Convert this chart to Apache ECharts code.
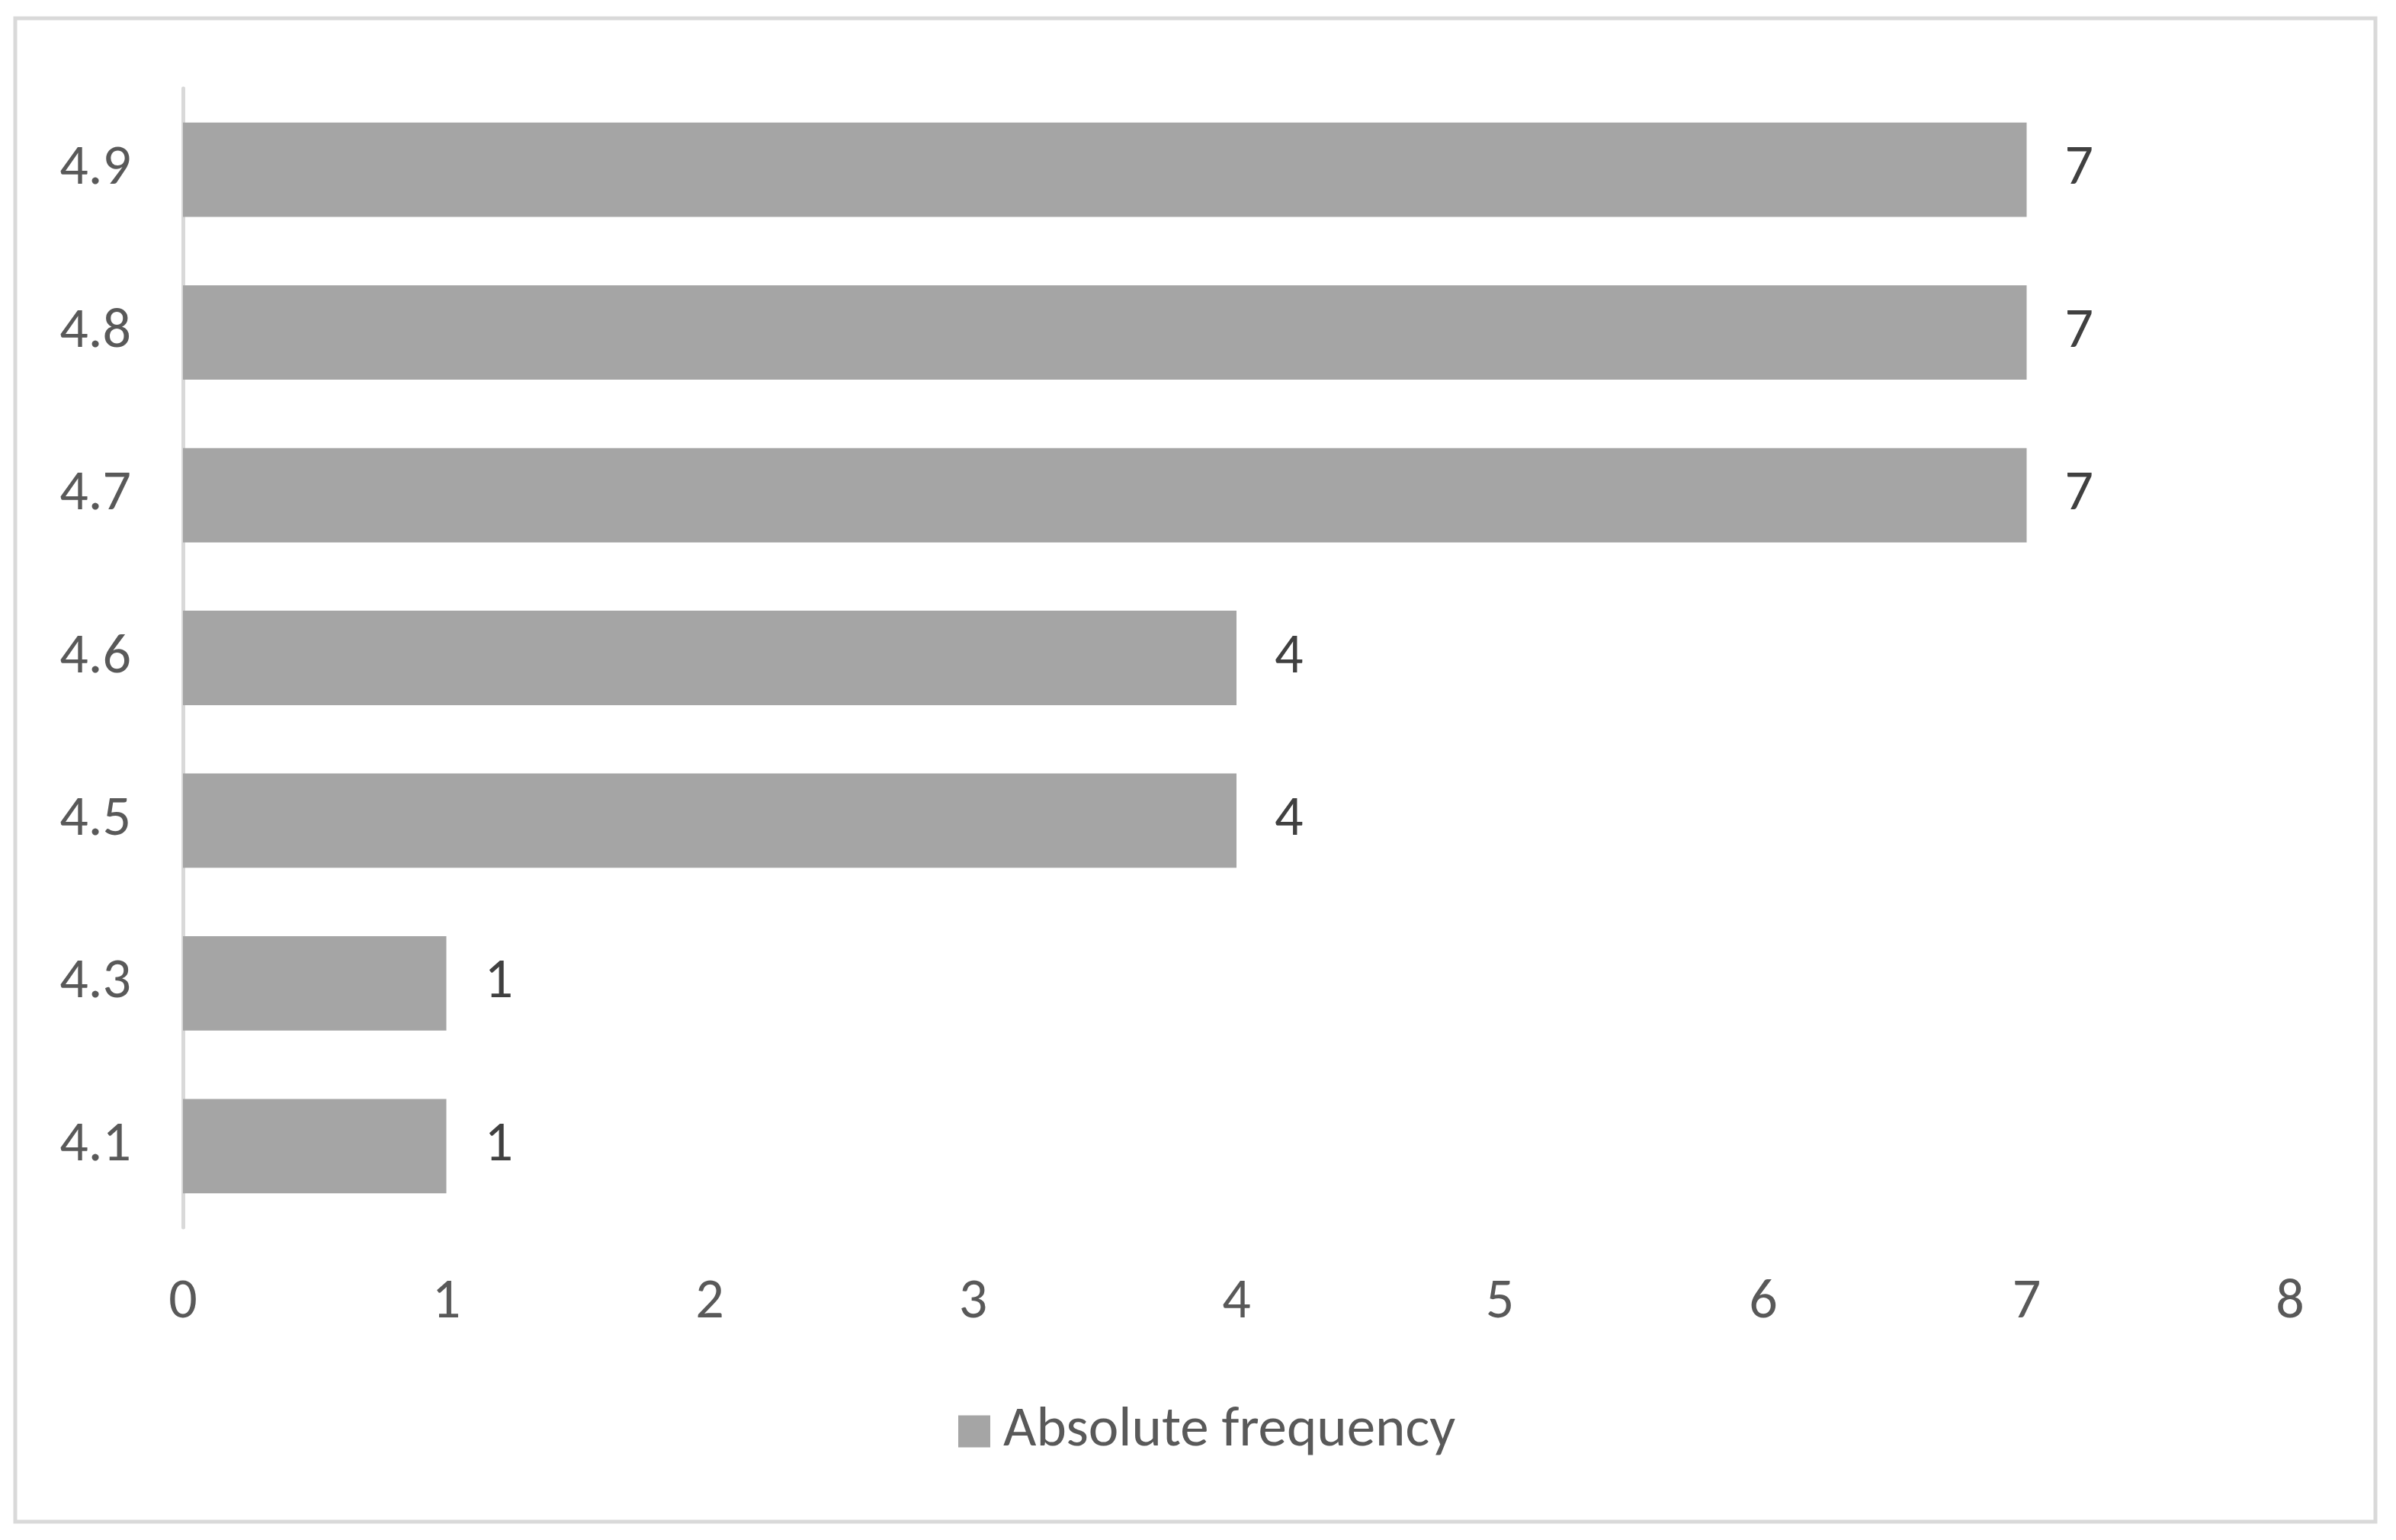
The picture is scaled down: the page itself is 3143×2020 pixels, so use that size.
<!DOCTYPE html>
<html>
<head>
<meta charset="utf-8">
<script src="https://cdn.jsdelivr.net/npm/echarts@6/dist/echarts.min.js"></script>
<style>
html, body { margin: 0; padding: 0; background: #fff; }
#freqChart { width: 3143px; height: 2020px; }
</style>
</head>
<body>
<div id="freqChart"></div>
<script>
// categories bottom -> top
var categories = ['4.1', '4.3', '4.5', '4.6', '4.7', '4.8', '4.9'];
var absFrequency = [1, 1, 4, 4, 7, 7, 7];
var xTicks = [0, 1, 2, 3, 4, 5, 6, 7, 8];

var freqChartObj = document.getElementById('freqChart');
var freqChart = echarts.init(freqChartObj);

var fontName = 'Carlito, Lato, sans-serif';
var fontSz = 74;

var option = {
    animation: false,
    backgroundColor: '#ffffff',
    textStyle: { fontFamily: fontName },
    graphic: [
        {
            type: 'rect',
            shape: { x: 20, y: 24, width: 3096, height: 1972 },
            style: { fill: 'none', stroke: '#d9d9d9', lineWidth: 5 },
            silent: true
        }
    ],
    legend: {
        bottom: 100,
        left: 1252,
        data: ['Absolute frequency'],
        icon: 'rect',
        itemWidth: 42,
        itemHeight: 42,
        itemGap: 20,
        textStyle: {
            color: '#595959',
            fontSize: 75,
            fontFamily: fontName,
            padding: [0, 0, 0, 12]
        }
    },
    grid: {
        left: 240,
        right: 3143 - 3004,
        top: 116,
        bottom: 2020 - 1610,
        containLabel: false
    },
    xAxis: {
        type: 'value',
        min: xTicks[0],
        max: xTicks[xTicks.length - 1],
        interval: 1,
        axisLine: { show: false },
        axisTick: { show: false },
        splitLine: { show: false },
        axisLabel: {
            color: '#595959',
            fontSize: fontSz,
            fontFamily: fontName,
            margin: 62
        }
    },
    yAxis: {
        type: 'category',
        data: categories,
        axisLine: {
            show: true,
            lineStyle: { color: '#d9d9d9', width: 5 }
        },
        axisTick: { show: false },
        axisLabel: {
            color: '#595959',
            fontSize: fontSz,
            fontFamily: fontName,
            margin: 68
        }
    },
    series: [
        {
            name: 'Absolute frequency',
            type: 'bar',
            data: absFrequency,
            barCategoryGap: '42%',
            itemStyle: { color: '#a5a5a5' },
            label: {
                show: true,
                position: 'right',
                distance: 50,
                color: '#404040',
                fontSize: fontSz,
                fontFamily: fontName
            }
        }
    ]
};

freqChart.setOption(option);
</script>
</body>
</html>
